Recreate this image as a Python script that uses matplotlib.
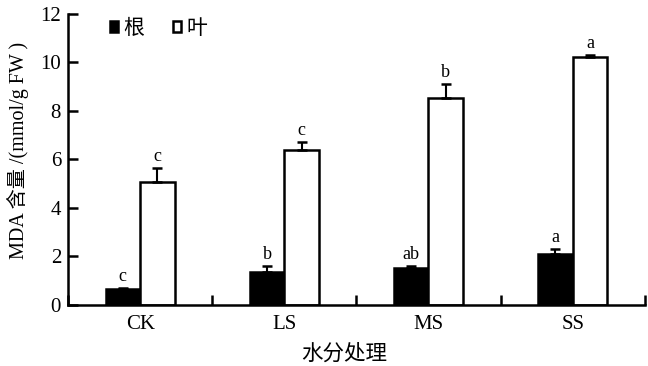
import matplotlib as mpl
mpl.use('agg')
import matplotlib.pyplot as plt
import numpy as np

## data
groups = ['CK', 'LS', 'MS', 'SS']
root = [0.65, 1.37, 1.54, 2.10]
root_err = [0.05, 0.23, 0.08, 0.22]
leaf = [5.05, 6.38, 8.52, 10.21]
leaf_err = [0.60, 0.35, 0.58, 0.10]
root_letters = ['c', 'b', 'ab', 'a']
leaf_letters = ['c', 'c', 'b', 'a']

serif = ['Liberation Serif', 'Noto Sans CJK SC']
cjk = ['Noto Sans CJK SC', 'Liberation Serif']
plt.rcParams['font.family'] = serif


def main():
    fig = plt.figure(figsize=(6.48, 3.66), dpi=100)
    ax = fig.add_axes([0.105, 0.167, 0.89, 0.795])

    x = np.arange(len(groups))
    w = 0.24

    ax.bar(x - w / 2, root, w, color='black', edgecolor='black', linewidth=1.8,
           yerr=[[0] * 4, root_err], error_kw=dict(ecolor='black', elinewidth=1.5, capsize=3.5, capthick=1.8),
           label='根')
    ax.bar(x + w / 2, leaf, w, color='white', edgecolor='black', linewidth=1.8,
           yerr=[[0] * 4, leaf_err], error_kw=dict(ecolor='black', elinewidth=1.5, capsize=3.5, capthick=1.8),
           label='叶')

    # significance letters
    for i in range(len(groups)):
        ax.text(x[i] - w / 2, root[i] + root_err[i] + 0.12, root_letters[i],
                ha='center', va='bottom', fontsize=13)
        ax.text(x[i] + w / 2, leaf[i] + leaf_err[i] + 0.12, leaf_letters[i],
                ha='center', va='bottom', fontsize=13)

    ax.set_xlim(-0.5, 3.5)
    ax.set_ylim(0, 12)
    ax.set_yticks(range(0, 13, 2))
    ax.set_xticks(x)
    ax.set_xticklabels(groups)
    ax.set_xticks(np.arange(-0.5, 4, 1), minor=True)

    ax.spines['top'].set_visible(False)
    ax.spines['right'].set_visible(False)
    ax.spines['left'].set_linewidth(1.8)
    ax.spines['bottom'].set_linewidth(1.8)

    ax.tick_params(axis='y', direction='in', length=7, width=1.8, labelsize=15, pad=5)
    ax.tick_params(axis='x', which='major', length=0, labelsize=15, pad=7)
    ax.tick_params(axis='x', which='minor', direction='in', length=7, width=1.8)

    ax.set_ylabel('MDA 含量 /(mmol/g FW )', fontsize=14.5, family=serif)
    ax.yaxis.set_label_coords(-0.068, 0.53)
    ax.set_xlabel('水分处理', fontsize=15.5, family=cjk)
    ax.xaxis.set_label_coords(0.478, -0.13)

    ax.legend(loc='upper left', ncol=2, frameon=False, handlelength=0.4, handleheight=0.4,
              handletextpad=0.25, columnspacing=1.4, prop=dict(family=cjk, size=15),
              borderpad=0, borderaxespad=0, bbox_to_anchor=(0.072, 0.99))

    fig.savefig('out.png', dpi=100)


if __name__ == "__main__":
    main()
